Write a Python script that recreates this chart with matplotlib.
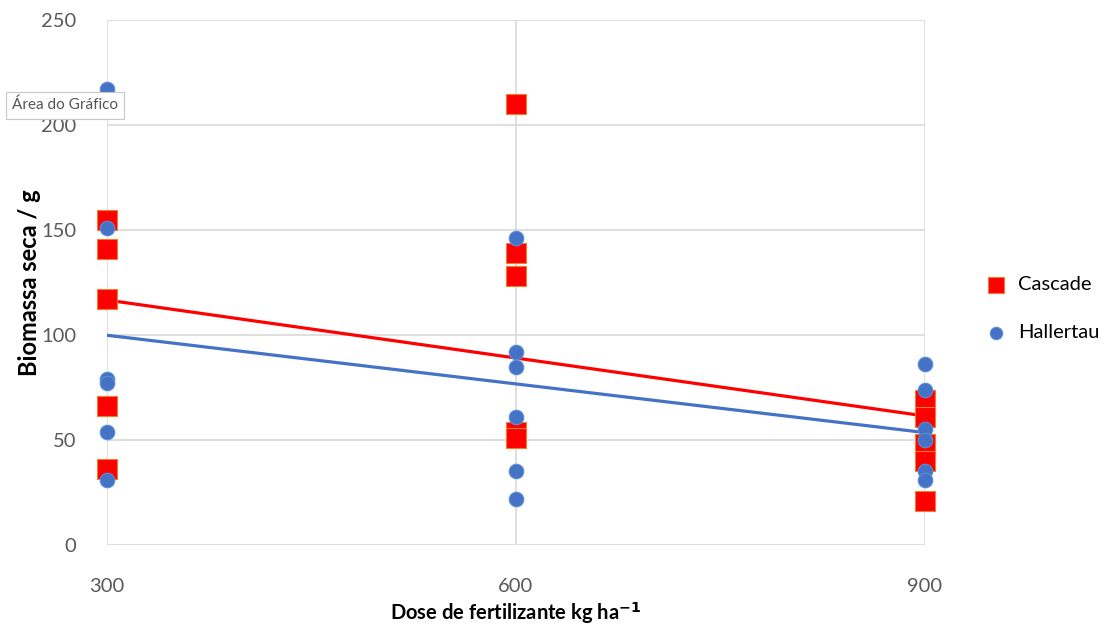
import numpy as np
import matplotlib
matplotlib.use("Agg")
import matplotlib.pyplot as plt

plt.rcParams['font.family'] = ['Lato', 'DejaVu Sans']

# dose (kg/ha) and dry biomass (g)
cascade_x = [300, 300, 300, 300, 300, 600, 600, 600, 600, 600, 900, 900, 900, 900, 900]
cascade_y = [155, 141, 117, 66, 36, 210, 139, 128, 54, 51, 69, 61, 48, 40, 21]
hallertau_x = [300, 300, 300, 300, 300, 300, 600, 600, 600, 600, 600, 600,
               900, 900, 900, 900, 900, 900]
hallertau_y = [217, 151, 79, 77, 54, 31, 146, 92, 85, 61, 35, 22,
               86, 74, 55, 50, 35, 31]
x_ticks = [300, 600, 900]
y_ticks = [0, 50, 100, 150, 200, 250]

fig = plt.figure(figsize=(11.2, 6.3), dpi=100)
ax = fig.add_axes([0.0955, 0.135, 0.73, 0.833])

# linear trendlines
xs = np.array([300, 900])
c_fit = np.polyfit(cascade_x, cascade_y, 1)
h_fit = np.polyfit(hallertau_x, hallertau_y, 1)
ax.plot(xs, np.polyval(c_fit, xs), color='#FF0000', lw=2.3, zorder=2)
ax.plot(xs, np.polyval(h_fit, xs), color='#4472C4', lw=2.3, zorder=2)

ax.scatter(cascade_x, cascade_y, marker='s', s=190, color='#FF0000',
           edgecolors='#ED7D31', linewidths=0.8, zorder=3, label='Cascade',
           clip_on=False)
ax.scatter(hallertau_x, hallertau_y, marker='o', s=110, color='#4472C4',
           edgecolors='#5B8FD9', linewidths=0.8, zorder=4, label='Hallertau',
           clip_on=False)

ax.set_xlim(300, 900)
ax.set_ylim(0, 250)
ax.set_xticks(x_ticks)
ax.set_yticks(y_ticks)
ax.grid(True, color='#D9D9D9', lw=1.2, zorder=0)
ax.set_axisbelow(True)
for s in ax.spines.values():
    s.set_visible(False)
ax.tick_params(length=0, labelsize=14.5, labelcolor='#595959')
ax.tick_params(axis='x', pad=24)
ax.tick_params(axis='y', pad=22)

ax.set_xlabel('Dose de fertilizante kg ha$^{\\mathbf{-1}}$', fontsize=14.5,
              fontweight='bold')
ax.xaxis.set_label_coords(0.5, -0.105)
ax.set_ylabel('Biomassa seca / g', fontsize=17, fontweight='bold')
ax.yaxis.set_label_coords(-0.081, 0.5)

ax.legend(loc='center left', bbox_to_anchor=(1.04, 0.45), frameon=False,
          fontsize=14.5, handletextpad=0.1, labelspacing=1.55, markerscale=0.85)

# Excel tooltip seen in the screenshot
fig.text(0.011, 0.833, 'Área do Gráfico', fontsize=11, color='#555555',
         va='center', ha='left',
         bbox=dict(boxstyle='square,pad=0.4', fc='white', ec='#C8C8C8', lw=0.8))

fig.savefig('out.png', dpi=100)
